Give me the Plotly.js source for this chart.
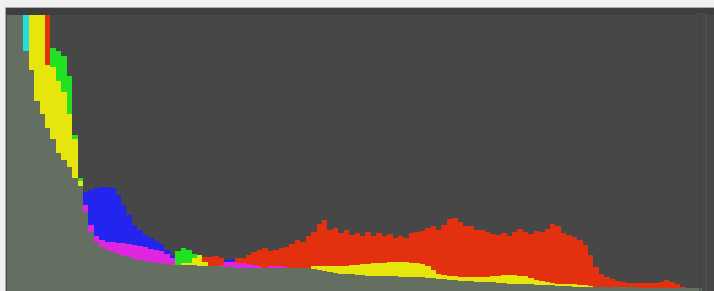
<!DOCTYPE html>
<html>
<head>
<meta charset="utf-8">
<script src="https://cdn.plot.ly/plotly-3.0.1.min.js"></script>
<style>
  html, body { margin: 0; padding: 0; background: #f1f1f1; width: 714px; height: 291px; overflow: hidden; }
  #frame { position: absolute; left: 5px; top: 7px; border-left: 1px solid #a9a9a9; border-top: 1px solid #adadad; }
  #chart { width: 708px; height: 283px; }
</style>
</head>
<body>
<div id="frame"><div id="chart"></div></div>
<script>
// Histogram bins (0..127) and per-channel counts (percent of clipped height)
const bins = Array.from({length: 128}, (_, i) => i);

const red = [
  100,100,100,87,100,100,100,100,81,76,
  72,64,55,40,31.2,24,19.9,18.5,17.8,17.8,
  17.4,17.4,17,16.7,16.3,15.9,15.2,14.9,14.5,13.4,
  12,9.6,10,10,12,13,12.3,12.3,12.7,12,
  10.5,10.5,12,12,13,14.1,14.9,15.6,14.5,14.9,
  15.6,15.9,17,18.5,17.8,19.9,21.4,24.3,25.7,22.1,
  22.8,21,22.1,20.3,21,19.9,21.4,19.9,21,19.9,
  20.7,19.2,19.9,19.2,21,21.4,21.7,22.8,23.5,22.1,
  23.9,26.1,26.4,25,23.5,23.5,22.1,22.1,21.4,20.7,
  20.3,21,19.9,21.4,22.5,21.4,20.7,21.7,21.4,22.5,
  24.3,23.5,21,20.3,19.6,18.5,16.7,13,8.7,6.2,
  5.1,4.3,3.6,3.3,2.9,2.9,2.9,2.9,2.9,2.9,
  3.3,4,3.3,2.5,1.6,1.2,1.0,1.0
];

const green = [
  100,100,100,100,100,100,100,82,88,87,
  85,78,56.5,41,28.6,21.4,17.8,15.9,14.9,14.1,
  13.4,12.7,12.3,11.6,11.2,10.9,10.5,10.1,10.1,9.8,
  9.4,14.5,15.6,14.9,13.4,13,10.5,9.2,9,9,
  8.7,8.7,8.3,8.3,8.3,8.3,8.2,8.2,8.3,8.3,
  8.3,8.3,8.3,8.3,8.3,8.5,8.9,9.1,9.1,9.1,
  9.1,9.1,9.2,9.4,9.6,9.8,9.8,10,10.1,10.3,
  10.5,10.5,10.5,10.5,10.3,10.1,9.8,9.1,7.6,6.2,
  5.8,5.4,5.4,5.1,5.1,5.1,4.9,4.9,5.1,5.3,
  5.4,5.8,5.8,5.8,5.6,5.3,4.7,4,3.6,3.3,
  2.9,2.7,2.5,2.5,2.4,2.2,2,1.8,1.6,1.4,
  1.4,1.3,1.3,1.3,1.3,1.3,1.2,1.2,1.2,1.2,
  1.2,1.1,1.1,1.1,1.1,1.0,1.0,1.0
];

const blue = [
  100,100,100,100,80,69,64,59,55,50,
  47.5,45,41,38,36,36.6,37.3,37.7,37.7,37.3,
  34.8,31.2,27.5,23.9,22.1,20.3,19.2,18.1,17,14.9,
  13,9.4,9.5,9.5,9.4,9.2,9,9,9.1,9.5,
  11.2,11.6,10.1,10.1,9.8,9.4,9.1,8.5,9,9,
  8.9,8.7,8.5,8.3,8.3,8.3,8,7.6,7.2,6.9,
  6.5,6.3,6.2,6,5.8,5.8,5.6,5.4,5.4,5.4,
  5.3,5.3,5.1,5.1,5.1,5.1,4.9,4.7,4.7,4.3,
  4.3,4,4,3.8,3.6,3.6,3.4,3.3,3.3,3.1,
  2.9,2.9,2.7,2.7,2.5,2.5,2.4,2.2,2.2,2.2,
  2,1.8,1.8,1.8,1.6,1.6,1.4,1.4,1.4,1.4,
  1.4,1.3,1.3,1.3,1.3,1.3,1.2,1.2,1.2,1.2,
  1.2,1.1,1.1,1.1,1.1,1.0,1.0,1.0
];

// Colours of single channels, channel pairs, and the all-channel overlap
const single = { R: '#e3300f', G: '#22e022', B: '#2424f0' };
const pair = { RG: '#e6e60c', GB: '#22dede', RB: '#e024e0' };
const allColor = '#646f62';

function pairColor(a, b) {
  const k = [a, b].sort().join('');
  if (k === 'GR') return pair.RG;
  if (k === 'BG') return pair.GB;
  return pair.RB; // 'BR'
}

const xs = bins.map(i => i + 0.5);
const lowY = [], midBase = [], midH = [], midC = [], topBase = [], topH = [], topC = [];
bins.forEach(i => {
  const v = [
    { c: 'R', v: red[i] },
    { c: 'G', v: green[i] },
    { c: 'B', v: blue[i] }
  ].sort((a, b) => b.v - a.v);
  lowY.push(v[2].v);
  midBase.push(v[2].v);
  midH.push(v[1].v - v[2].v);
  midC.push(pairColor(v[0].c, v[1].c));
  topBase.push(v[1].v);
  topH.push(v[0].v - v[1].v);
  topC.push(single[v[0].c]);
});

const common = { type: 'bar', x: xs, width: 1, hoverinfo: 'skip', marker: { line: { width: 0 } } };
const traces = [
  Object.assign({}, common, { y: lowY, marker: { color: allColor, line: { width: 0 } } }),
  Object.assign({}, common, { y: midH, base: midBase, marker: { color: midC, line: { width: 0 } } }),
  Object.assign({}, common, { y: topH, base: topBase, marker: { color: topC, line: { width: 0 } } })
];

const layout = {
  width: 708, height: 283,
  margin: { l: 0, r: 0, t: 0, b: 0 },
  paper_bgcolor: '#474747',
  plot_bgcolor: '#474747',
  barmode: 'overlay',
  bargap: 0,
  showlegend: false,
  xaxis: { range: [-0.184, 130.2], visible: false, fixedrange: true },
  yaxis: { range: [0, 102.54], visible: false, fixedrange: true },
  shapes: [
    { type: 'rect', xref: 'paper', yref: 'y', x0: 0, x1: 1, y0: 100, y1: 102.54,
      fillcolor: '#3e3e3e', line: { width: 0 }, layer: 'below' },
    { type: 'line', xref: 'paper', yref: 'paper', x0: 0.9802, x1: 0.9802, y0: 0, y1: 0.975,
      line: { color: '#404040', width: 1 } },
    { type: 'line', xref: 'paper', yref: 'paper', x0: 0.9887, x1: 0.9887, y0: 0, y1: 0.979,
      line: { color: '#585858', width: 1 } },
    { type: 'line', xref: 'paper', yref: 'paper', x0: 0.975, x1: 0.9887, y0: 0.979, y1: 0.979,
      line: { color: '#525252', width: 1 } }
  ]
};

Plotly.newPlot('chart', traces, layout, { staticPlot: true, displayModeBar: false });
</script>
</body>
</html>
